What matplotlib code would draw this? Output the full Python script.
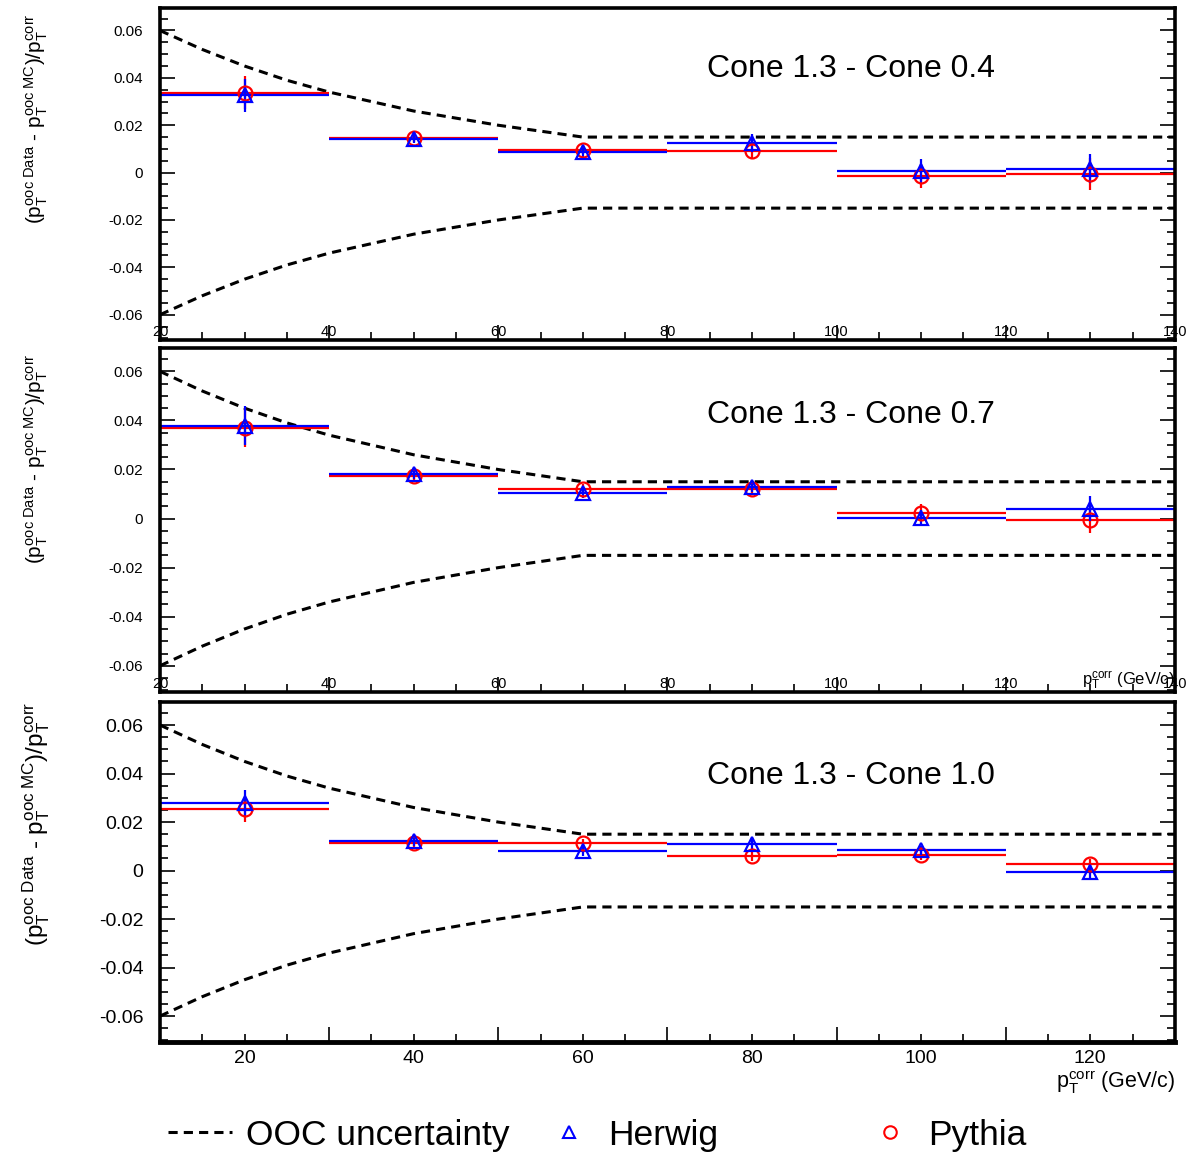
import matplotlib
matplotlib.use('Agg')
import matplotlib.pyplot as plt
from matplotlib.ticker import MultipleLocator, FuncFormatter
from matplotlib.lines import Line2D

plt.rcParams['font.family'] = ['Liberation Sans', 'DejaVu Sans']
plt.rcParams['mathtext.fontset'] = 'custom'
plt.rcParams['mathtext.rm'] = 'Liberation Sans'
plt.rcParams['mathtext.it'] = 'Liberation Sans'
plt.rcParams['mathtext.default'] = 'regular'

# bin centres (top two panels: 20-140, bottom panel: 10-130)
centers_top = [30, 50, 70, 90, 110, 130]
centers_bot = [20, 40, 60, 80, 100, 120]
half_bin = 10

# Cone 1.3 - Cone 0.4
herwig_04 = [0.0326, 0.0143, 0.0085, 0.0125, 0.0008, 0.0017]
herwig_04_err = [0.007, 0.002, 0.002, 0.004, 0.005, 0.006]
pythia_04 = [0.0338, 0.0148, 0.0097, 0.0092, -0.0013, -0.0006]
pythia_04_err = [0.007, 0.002, 0.002, 0.003, 0.005, 0.0067]

# Cone 1.3 - Cone 0.7
herwig_07 = [0.0379, 0.0180, 0.0103, 0.0127, 0.0003, 0.0041]
herwig_07_err = [0.008, 0.002, 0.002, 0.002, 0.003, 0.005]
pythia_07 = [0.0371, 0.0175, 0.0122, 0.0120, 0.0024, -0.0007]
pythia_07_err = [0.008, 0.002, 0.002, 0.002, 0.0035, 0.005]

# Cone 1.3 - Cone 1.0
herwig_10 = [0.0277, 0.0120, 0.0082, 0.0111, 0.0083, -0.0007]
herwig_10_err = [0.0055, 0.002, 0.002, 0.002, 0.002, 0.003]
pythia_10 = [0.0252, 0.0114, 0.0112, 0.0060, 0.0064, 0.0026]
pythia_10_err = [0.005, 0.002, 0.002, 0.002, 0.002, 0.002]

# OOC uncertainty band
unc_pt_top = [20, 25, 30, 35, 40, 45, 50, 55, 60, 65, 70, 140]
unc_pt_bot = [10, 15, 20, 25, 30, 35, 40, 45, 50, 55, 60, 130]
unc_val = [0.060, 0.052, 0.045, 0.039, 0.034, 0.030, 0.026, 0.023, 0.020, 0.0175, 0.015, 0.015]

ylab = '$(p_{T}^{ooc\\ Data}$ \u2010 $p_{T}^{ooc\\ MC})/p_{T}^{corr}$'


def yfmt(v, pos):
    if abs(v) < 1e-9:
        return '0'
    return '%.2f' % v


def draw_panel(ax, centers, herwig, herwig_err, pythia, pythia_err, unc_pt, title, ty):
    ax.plot(unc_pt, unc_val, color='k', ls=(0, (3, 2)), lw=2.2)
    ax.plot(unc_pt, [-v for v in unc_val], color='k', ls=(0, (3, 2)), lw=2.2)
    ax.errorbar(centers, pythia, xerr=half_bin, yerr=pythia_err, fmt='o', color='red',
                mfc='none', mec='red', ms=10, mew=1.6, elinewidth=1.6, capsize=0)
    ax.errorbar(centers, herwig, xerr=half_bin, yerr=herwig_err, fmt='^', color='blue',
                mfc='none', mec='blue', ms=10, mew=1.6, elinewidth=1.6, capsize=0)
    ax.text(0.539, ty, title, transform=ax.transAxes, fontsize=23, va='center', ha='left')
    ax.set_ylim(-0.0707, 0.0695)
    ax.yaxis.set_major_locator(MultipleLocator(0.02))
    ax.yaxis.set_minor_locator(MultipleLocator(0.005))
    ax.yaxis.set_major_formatter(FuncFormatter(yfmt))
    for sp in ax.spines.values():
        sp.set_linewidth(2.6)
    ax.tick_params(which='both', direction='in', left=True, right=True, top=False, bottom=True, width=1.2)
    ax.tick_params(which='major', length=11)
    ax.tick_params(which='minor', length=6)


fig = plt.figure(figsize=(12.01, 11.59), dpi=100)
ax1 = fig.add_axes([0.1332, 0.7066, 0.845, 0.2865])
ax2 = fig.add_axes([0.1332, 0.4029, 0.845, 0.2968])
ax3 = fig.add_axes([0.1332, 0.1009, 0.845, 0.2934])

draw_panel(ax1, centers_top, herwig_04, herwig_04_err, pythia_04, pythia_04_err, unc_pt_top, 'Cone 1.3 - Cone 0.4', 0.815)
draw_panel(ax2, centers_top, herwig_07, herwig_07_err, pythia_07, pythia_07_err, unc_pt_top, 'Cone 1.3 - Cone 0.7', 0.806)
draw_panel(ax3, centers_bot, herwig_10, herwig_10_err, pythia_10, pythia_10_err, unc_pt_bot, 'Cone 1.3 - Cone 1.0', 0.782)

for ax in [ax1, ax2]:
    ax.set_xlim(20, 140)
    ax.xaxis.set_major_locator(MultipleLocator(20))
    ax.xaxis.set_minor_locator(MultipleLocator(5))
    ax.tick_params(axis='x', which='major', labelsize=10.5, pad=-11)
    ax.tick_params(axis='y', labelsize=11, pad=12)
    ax.set_ylabel(ylab, loc='top', fontsize=15)
    ax.yaxis.set_label_coords(-0.108, 0.985)

ax2.text(1.0, 0.003, r'$p_{T}^{corr}$ (GeV/c)', transform=ax2.transAxes, ha='right', va='bottom', fontsize=12)

ax3.set_xlim(10, 130)
ax3.xaxis.set_major_locator(MultipleLocator(20, offset=10))
ax3.xaxis.set_minor_locator(MultipleLocator(5))
ax3.xaxis.set_major_formatter(FuncFormatter(lambda v, p: ''))
ax3.xaxis.set_minor_formatter(FuncFormatter(lambda v, p: '%d' % v if round(v) % 20 == 0 else ''))
ax3.tick_params(axis='x', which='both', labelsize=14, pad=6)
ax3.tick_params(axis='y', labelsize=14, pad=12)
ax3.spines['bottom'].set_linewidth(3.5)
ax3.set_xlabel(r'$p_{T}^{corr}$ (GeV/c)', loc='right', fontsize=15.5, labelpad=1)
ax3.set_ylabel(ylab, loc='top', fontsize=17.5)
ax3.yaxis.set_label_coords(-0.106, 1.0)

# legend, three entries placed separately
h_unc = Line2D([], [], color='k', ls=(0, (3, 2)), lw=2.2)
h_her = Line2D([], [], ls='none', marker='^', mfc='none', mec='blue', ms=9, mew=1.5)
h_pyt = Line2D([], [], ls='none', marker='o', mfc='none', mec='red', ms=9, mew=1.5)
for h, lab, x, tp in [(h_unc, 'OOC uncertainty', 0.140, 0.39),
                      (h_her, 'Herwig', 0.4476, 0.2),
                      (h_pyt, 'Pythia', 0.7148, 0.18)]:
    fig.legend(handles=[h], labels=[lab], loc='center left', bbox_to_anchor=(x, 0.0207),
               frameon=False, fontsize=25.5, handlelength=1.8, handletextpad=tp,
               borderpad=0, borderaxespad=0)

fig.savefig('out.png', dpi=100)
